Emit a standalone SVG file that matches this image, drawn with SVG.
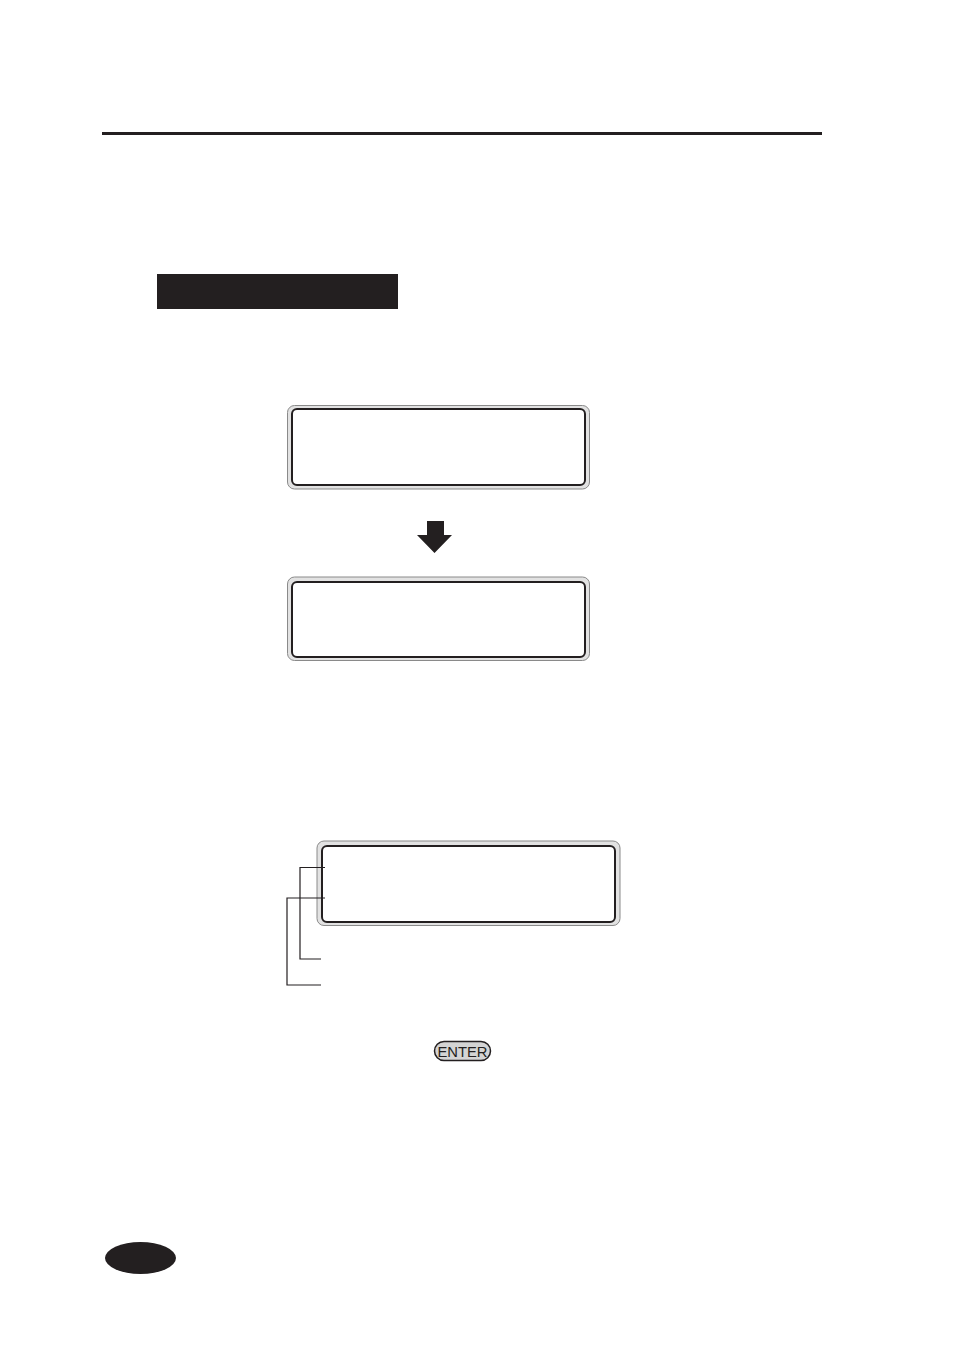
<svg xmlns="http://www.w3.org/2000/svg" width="954" height="1348" viewBox="0 0 954 1348">
<style>
.lcd-outer{fill:#e2e2e2;stroke:#8a8a8a;stroke-width:1}
.lcd-inner{fill:#fff;stroke:#231f20;stroke-width:2}
.blk{fill:#231f20}
.ln{fill:none;stroke:#231f20;stroke-width:1.2}
.key{fill:#d4d4d4;stroke:#231f20;stroke-width:1.5}
.keytxt{font-family:"Liberation Sans",Arial,sans-serif;font-size:14px;fill:#231f20}
</style>
<rect id="rule" class="blk" x="102" y="132" width="720" height="3"/>
<rect id="title-bar" class="blk" x="157" y="274" width="241" height="35"/>
<g id="lcd1">
<rect class="lcd-outer" x="287.5" y="405.5" width="302" height="83.5" rx="7"/>
<rect class="lcd-inner" x="292" y="409" width="293" height="76" rx="5"/>
</g>
<g id="lcd2">
<rect class="lcd-outer" x="287.5" y="577" width="302" height="83.5" rx="7"/>
<rect class="lcd-inner" x="292" y="582" width="293" height="75" rx="5"/>
</g>
<g id="lcd3">
<rect class="lcd-outer" x="317" y="841" width="303" height="84.5" rx="7"/>
<rect class="lcd-inner" x="322" y="846" width="293" height="76" rx="5"/>
</g>
<g id="connectors">
<polygon class="blk" points="427,521 444,521 444,535 452,535 434.5,553 417,535 427,535"/>
<polyline class="ln" points="325,867.5 300,867.5 300,959 321,959"/>
<polyline class="ln" points="325,898 287,898 287,985 321,985"/>
</g>
<g id="enter-key">
<rect class="key" x="434.5" y="1041.5" width="56" height="19" rx="9.5"/>
<text class="keytxt" x="462.5" y="1056.5" text-anchor="middle" textLength="50" lengthAdjust="spacingAndGlyphs">ENTER</text>
</g>
<ellipse id="page-tab" class="blk" cx="140.5" cy="1258" rx="35.5" ry="16"/>
</svg>
